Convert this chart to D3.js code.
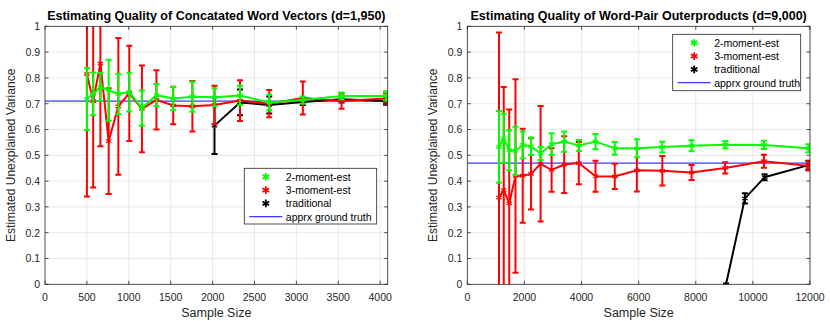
<!DOCTYPE html>
<html>
<head>
<meta charset="utf-8">
<script src="https://cdn.jsdelivr.net/npm/d3@7"></script>
<style>
  body { margin: 0; background: #fff; }
  svg { display: block; font-family: "Liberation Sans", Arial, Helvetica, sans-serif; }
</style>
</head>
<body>
<div id="app"></div>
<script>
// ---- left panel: concatenated word vectors (d=1,950)
const leftN = [500, 575, 661, 760, 875, 1006, 1157, 1330, 1530, 1759, 2023, 2327, 2676, 3077, 3539, 4070]
const leftTwoMean = [0.718, 0.738, 0.765, 0.752, 0.738, 0.745, 0.683, 0.733, 0.72, 0.727, 0.725, 0.732, 0.705, 0.714, 0.73, 0.73]
const leftTwoErr = [0.12, 0.083, 0.055, 0.118, 0.078, 0.075, 0.068, 0.043, 0.045, 0.058, 0.035, 0.038, 0.03, 0.014, 0.013, 0.018]
const leftThreeMean = [0.815, 0.71, 0.855, 0.555, 0.69, 0.74, 0.68, 0.715, 0.693, 0.69, 0.695, 0.712, 0.70, 0.722, 0.71, 0.72]
const leftThreeErr = [0.475, 0.335, 0.32, 0.205, 0.265, 0.185, 0.168, 0.115, 0.073, 0.098, 0.075, 0.079, 0.053, 0.064, 0.03, 0.02]
const leftTradN = [2023, 2327, 2676, 3077, 3539, 4070]
const leftTradMean = [0.615, 0.705, 0.695, 0.707, 0.717, 0.71]
const leftTradErr = [0.11, 0.05, 0.033, 0.012, 0.012, 0.014]
const leftTruth = 0.71
const leftXTicks = [0, 500, 1000, 1500, 2000, 2500, 3000, 3500, 4000]

// ---- right panel: word-pair outerproducts (d=9,000)
const rightN = [1110, 1276, 1468, 1688, 1941, 2232, 2567, 2952, 3395, 3904, 4490, 5163, 5938, 6829, 7853, 9031, 10386, 11944]
const rightTwoMean = [0.533, 0.566, 0.52, 0.517, 0.54, 0.535, 0.507, 0.543, 0.553, 0.538, 0.553, 0.527, 0.527, 0.532, 0.537, 0.541, 0.54, 0.527]
const rightTwoErr = [0.139, 0.095, 0.078, 0.094, 0.052, 0.034, 0.025, 0.042, 0.039, 0.021, 0.03, 0.025, 0.035, 0.021, 0.021, 0.014, 0.016, 0.016]
const rightThreeMean = [0.336, 0.365, 0.314, 0.42, 0.421, 0.428, 0.467, 0.443, 0.464, 0.47, 0.419, 0.418, 0.442, 0.44, 0.433, 0.451, 0.477, 0.459]
const rightThreeErr = [0.64, 0.40, 0.364, 0.375, 0.182, 0.138, 0.224, 0.084, 0.11, 0.082, 0.06, 0.049, 0.082, 0.057, 0.029, 0.022, 0.025, 0.018]
const rightTradN = [9060, 9720, 10410, 11944]
const rightTradMean = [0, 0.333, 0.415, 0.462]
const rightTradErr = [0.002, 0.02, 0.012, 0.017]
const rightTruth = 0.47
const rightXTicks = [0, 2000, 4000, 6000, 8000, 10000, 12000]

const yTicks = [0, 0.1, 0.2, 0.3, 0.4, 0.5, 0.6, 0.7, 0.8, 0.9, 1]
const legendLabels = ['2-moment-est', '3-moment-est', 'traditional', 'apprx ground truth']

const GREEN = '#00ff00', RED = '#ff0000', BLACK = '#000000', BLUE = '#3a3aff'
const AXIS = '#262626', GRID = '#e3e3e3'

const width = 830, height = 321

const svg = d3.select('#app')
    .append('svg')
    .attr('width', width)
    .attr('height', height)
    .attr('viewBox', [0, 0, width, height])

const zip = (n, m, e) => n.map((v, i) => ({ n: v, m: m[i], e: e[i] }))

const asterisk = d3.symbol().type(d3.symbolAsterisk || d3.symbolCross).size(28)
const legendStar = d3.symbol().type(d3.symbolAsterisk || d3.symbolCross).size(40)

function drawPanel(p) {
    const x = d3.scaleLinear().domain(p.xDomain).range([p.left, p.right])
    const y = d3.scaleLinear().domain([0, 1]).range([284.3, 26.3])
    const g = svg.append('g')

    g.append('clipPath').attr('id', p.id)
        .append('rect')
        .attr('x', p.left).attr('y', y(1))
        .attr('width', p.right - p.left).attr('height', y(0) - y(1))

    // grid
    g.append('g').selectAll('line').data(p.xTicks.filter(d => d > 0)).join('line')
        .attr('x1', d => x(d)).attr('x2', d => x(d))
        .attr('y1', y(0)).attr('y2', y(1))
        .attr('stroke', GRID).attr('stroke-width', 0.8)
    g.append('g').selectAll('line').data(yTicks.filter(d => d > 0 && d < 1)).join('line')
        .attr('y1', d => y(d)).attr('y2', d => y(d))
        .attr('x1', p.left).attr('x2', p.right)
        .attr('stroke', GRID).attr('stroke-width', 0.8)

    const plot = g.append('g').attr('clip-path', `url(#${p.id})`)

    // ground truth
    plot.append('line')
        .attr('x1', p.left).attr('x2', p.right)
        .attr('y1', y(p.truth)).attr('y2', y(p.truth))
        .attr('stroke', BLUE).attr('stroke-width', 1.3)

    const line = d3.line().x(d => x(d.n)).y(d => y(d.m))

    p.series.forEach(s => {
        const sg = plot.append('g')
        sg.append('path')
            .datum(s.data)
            .attr('d', line)
            .attr('fill', 'none')
            .attr('stroke', s.color)
            .attr('stroke-width', 2)
        const bars = sg.append('g').selectAll('g').data(s.data).join('g')
        bars.append('line')
            .attr('x1', d => x(d.n)).attr('x2', d => x(d.n))
            .attr('y1', d => y(d.m - d.e)).attr('y2', d => y(d.m + d.e))
            .attr('stroke', s.color).attr('stroke-width', 2)
        bars.append('line')
            .attr('x1', d => x(d.n) - 3).attr('x2', d => x(d.n) + 3)
            .attr('y1', d => y(d.m + d.e)).attr('y2', d => y(d.m + d.e))
            .attr('stroke', s.color).attr('stroke-width', 2)
        bars.append('line')
            .attr('x1', d => x(d.n) - 3).attr('x2', d => x(d.n) + 3)
            .attr('y1', d => y(d.m - d.e)).attr('y2', d => y(d.m - d.e))
            .attr('stroke', s.color).attr('stroke-width', 2)
        bars.append('path')
            .attr('d', asterisk)
            .attr('transform', d => `translate(${x(d.n)},${y(d.m)})`)
            .attr('fill', 'none')
            .attr('stroke', s.color).attr('stroke-width', 1.2)
    })

    // axes box
    const axes = g.append('g').attr('font-size', 10.5).attr('fill', AXIS)
    axes.append('rect')
        .attr('x', p.left).attr('y', y(1))
        .attr('width', p.right - p.left).attr('height', y(0) - y(1))
        .attr('fill', 'none').attr('stroke', AXIS).attr('stroke-width', 0.8)

    const xa = axes.append('g').selectAll('g').data(p.xTicks).join('g')
    xa.append('line')
        .attr('x1', d => x(d)).attr('x2', d => x(d))
        .attr('y1', y(0)).attr('y2', y(0) - 3.5)
        .attr('stroke', AXIS).attr('stroke-width', 0.8)
    xa.append('line')
        .attr('x1', d => x(d)).attr('x2', d => x(d))
        .attr('y1', y(1)).attr('y2', y(1) + 3.5)
        .attr('stroke', AXIS).attr('stroke-width', 0.8)
    xa.append('text')
        .attr('x', d => x(d)).attr('y', 300.5)
        .attr('text-anchor', 'middle')
        .text(d => d)

    const ya = axes.append('g').selectAll('g').data(yTicks).join('g')
    ya.append('line')
        .attr('x1', p.left).attr('x2', p.left + 3.5)
        .attr('y1', d => y(d)).attr('y2', d => y(d))
        .attr('stroke', AXIS).attr('stroke-width', 0.8)
    ya.append('line')
        .attr('x1', p.right).attr('x2', p.right - 3.5)
        .attr('y1', d => y(d)).attr('y2', d => y(d))
        .attr('stroke', AXIS).attr('stroke-width', 0.8)
    ya.append('text')
        .attr('x', p.left - 5).attr('y', d => y(d) + 3.8)
        .attr('text-anchor', 'end')
        .text(d => d)

    // labels
    g.append('text')
        .attr('x', (p.left + p.right) / 2).attr('y', 19.5)
        .attr('text-anchor', 'middle')
        .attr('font-size', 12.5).attr('font-weight', 'bold')
        .attr('fill', '#000')
        .text(p.title)
    g.append('text')
        .attr('x', (p.left + p.right) / 2).attr('y', 317)
        .attr('text-anchor', 'middle')
        .attr('font-size', 12.5).attr('fill', AXIS)
        .text('Sample Size')
    g.append('text')
        .attr('transform', `translate(${p.left - 30},${(y(0) + y(1)) / 2}) rotate(-90)`)
        .attr('text-anchor', 'middle')
        .attr('font-size', 12).attr('fill', AXIS)
        .text('Estimated Unexplained Variance')

    // legend
    const L = p.legend
    const lg = g.append('g')
    lg.append('rect')
        .attr('x', L.x).attr('y', L.y).attr('width', L.w).attr('height', L.h)
        .attr('fill', '#fff').attr('stroke', AXIS).attr('stroke-width', 0.8)
    const colors = [GREEN, RED, BLACK, BLUE]
    legendLabels.forEach((lab, i) => {
        const ry = L.y + 8.5 + i * 13.3
        if (i < 3) {
            lg.append('path')
                .attr('d', legendStar)
                .attr('transform', `translate(${L.x + 21.5},${ry})`)
                .attr('fill', 'none').attr('stroke', colors[i]).attr('stroke-width', 1.8)
        } else {
            lg.append('line')
                .attr('x1', L.x + 5).attr('x2', L.x + 38)
                .attr('y1', ry).attr('y2', ry)
                .attr('stroke', BLUE).attr('stroke-width', 1.3)
        }
        lg.append('text')
            .attr('x', L.x + 41.5).attr('y', ry + 3.8)
            .attr('font-size', 10.5).attr('fill', '#000')
            .text(lab)
    })
}

drawPanel({
    id: 'clip-left',
    left: 45, right: 387.7,
    xDomain: [0, 4090],
    xTicks: leftXTicks,
    truth: leftTruth,
    title: 'Estimating Quality of Concatated Word Vectors (d=1,950)',
    legend: { x: 244.3, y: 168.3, w: 132.4, h: 55.7 },
    series: [
        { color: BLACK, data: zip(leftTradN, leftTradMean, leftTradErr) },
        { color: RED, data: zip(leftN, leftThreeMean, leftThreeErr) },
        { color: GREEN, data: zip(leftN, leftTwoMean, leftTwoErr) }
    ]
})

drawPanel({
    id: 'clip-right',
    left: 467.3, right: 810,
    xDomain: [0, 12000],
    xTicks: rightXTicks,
    truth: rightTruth,
    title: 'Estimating Quality of Word-Pair Outerproducts (d=9,000)',
    legend: { x: 672.7, y: 34.3, w: 128, h: 56.4 },
    series: [
        { color: BLACK, data: zip(rightTradN, rightTradMean, rightTradErr) },
        { color: RED, data: zip(rightN, rightThreeMean, rightThreeErr) },
        { color: GREEN, data: zip(rightN, rightTwoMean, rightTwoErr) }
    ]
})
</script>
</body>
</html>
